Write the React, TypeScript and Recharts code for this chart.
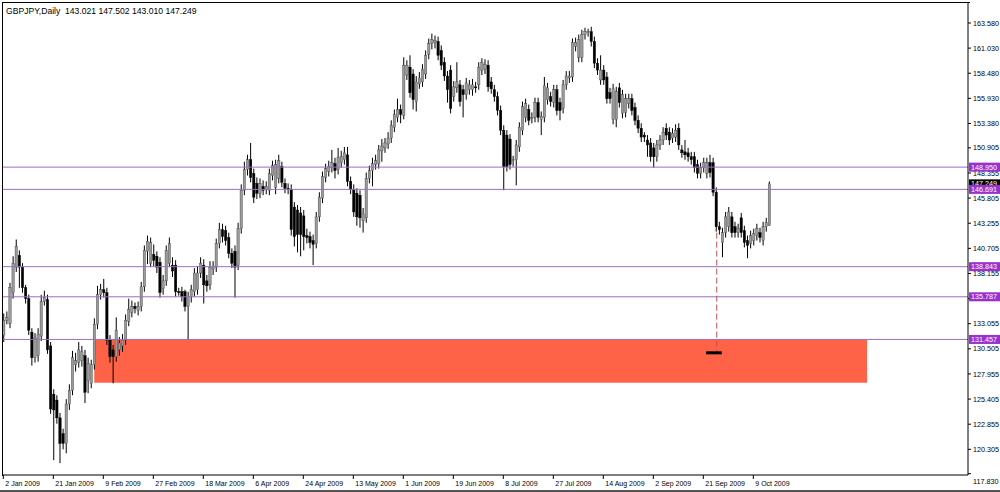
import React from 'react';
import { ComposedChart, Bar, XAxis, YAxis, ReferenceLine, ReferenceArea } from 'recharts';

// ---- data (GBPJPY daily, one value per bar) ----
const opens = [
  131.9,133.4,133.1,136.2,138.8,140.0,138.8,136.7,135.6,132.2,
  129.6,129.8,131.8,135.3,135.5,130.8,125.9,125.3,123.5,121.9,
  120.9,124.9,126.3,128.9,129.1,129.3,129.8,127.3,127.0,128.9,
  133.0,136.0,136.5,136.2,131.4,130.4,129.7,130.4,130.8,131.4,
  133.3,134.2,134.8,134.4,134.8,136.8,140.4,139.2,140.1,139.9,
  139.3,136.6,137.4,139.2,139.0,139.0,136.3,136.3,136.3,134.8,
  135.8,136.3,136.5,138.2,139.0,137.4,137.0,138.6,138.8,141.2,
  142.6,142.5,141.8,140.2,140.4,139.0,142.7,146.6,148.7,149.7,
  148.3,147.3,146.3,147.0,146.7,146.6,148.1,146.9,147.8,149.0,
  147.3,146.8,146.7,144.9,144.6,144.3,144.0,142.0,141.9,141.5,
  141.2,143.9,145.8,147.9,148.5,148.9,149.3,148.7,149.4,149.7,
  150.2,147.5,146.7,146.3,146.1,143.5,143.8,147.8,148.6,149.2,
  149.3,150.6,150.9,151.3,151.9,153.0,154.0,154.8,154.2,158.3,
  159.1,158.4,155.6,157.4,157.6,158.4,160.4,161.5,161.6,161.7,
  160.8,159.6,158.2,158.8,156.1,157.0,157.3,156.8,156.3,156.8,
  156.8,157.1,157.3,158.8,158.9,159.3,157.6,156.8,156.1,154.7,
  152.7,152.2,151.8,149.6,149.7,151.0,152.7,154.0,154.8,153.9,
  154.0,155.5,153.8,154.0,155.8,156.1,155.5,156.8,155.5,154.9,
  157.3,158.0,158.1,161.2,160.1,160.1,162.4,162.6,162.7,161.7,
  159.5,157.8,158.8,158.1,156.5,153.8,153.8,157.0,154.4,154.5,
  155.4,155.9,155.0,153.7,152.9,152.2,151.7,151.4,150.9,150.0,
  151.2,151.7,152.9,152.5,151.9,152.0,152.9,150.7,150.5,150.4,
  150.0,150.0,149.2,148.3,148.9,148.3,149.4,149.4,146.4,142.9,
  141.3,142.3,142.9,143.9,142.9,142.3,143.8,142.5,141.5,141.2,
  141.5,142.0,142.3,141.5,142.9,143.021,
];
const highs = [
  134.1,134.3,137.2,139.9,141.6,140.5,139.2,137.0,136.0,132.6,
  132.1,132.6,136.0,136.4,136.0,131.2,126.4,125.8,124.0,122.4,
  125.4,126.9,130.3,130.1,131.2,130.8,130.4,129.6,129.4,133.6,
  136.9,137.1,137.6,136.7,131.9,130.9,133.7,131.7,132.0,134.0,
  135.6,135.4,135.2,135.3,137.3,141.0,142.0,141.8,141.1,140.4,
  139.8,138.0,141.0,141.8,139.8,139.5,136.7,136.8,136.5,136.3,
  137.0,138.7,138.9,139.8,139.6,138.0,139.4,139.4,141.7,143.3,
  143.2,143.0,142.3,140.7,141.0,143.3,147.2,149.5,150.2,151.4,
  148.8,147.9,147.8,147.6,147.5,148.8,149.6,149.7,150.2,149.5,
  147.8,147.3,147.2,145.4,145.1,144.9,144.6,142.7,142.4,142.1,
  144.4,146.4,148.5,149.3,149.6,150.7,149.9,150.9,150.6,151.0,
  151.0,148.0,147.2,146.8,146.6,144.8,148.4,149.1,149.9,150.2,
  151.2,151.8,151.9,152.5,153.7,154.8,155.9,155.3,160.1,159.8,
  160.3,158.9,158.2,158.6,159.4,160.8,162.0,162.5,162.3,162.2,
  161.3,160.1,158.7,159.3,157.7,159.6,157.8,157.3,158.0,157.8,
  157.9,157.6,159.6,160.0,159.9,159.8,158.1,157.3,156.6,155.2,
  153.2,152.7,152.3,150.1,151.7,153.5,155.6,155.9,155.3,154.5,
  156.0,156.0,154.6,158.1,157.5,156.6,157.3,157.3,156.0,157.8,
  158.7,158.7,162.0,162.1,162.4,162.9,163.1,163.0,163.2,162.2,
  160.0,160.3,159.3,158.6,157.0,157.4,157.1,157.5,156.8,156.4,
  156.4,156.4,155.5,154.2,153.4,152.5,152.2,151.9,151.4,151.7,
  152.2,153.0,153.4,153.0,152.9,153.3,153.4,151.2,151.7,150.9,
  150.5,150.5,149.7,149.4,149.9,149.9,150.2,149.9,146.9,143.4,
  142.8,144.4,144.9,144.4,143.4,143.2,144.3,143.0,142.0,142.5,
  142.7,143.2,142.8,143.4,143.8,147.502,
];
const lows = [
  131.2,133.0,132.6,135.6,138.3,136.7,136.2,135.1,131.9,128.8,
  129.1,129.2,131.3,134.9,130.0,123.9,119.2,122.9,118.9,120.3,
  119.9,124.3,125.8,128.2,128.6,128.7,125.0,126.0,126.5,128.4,
  132.5,135.5,135.7,130.9,129.1,127.0,129.2,129.8,130.2,130.9,
  132.8,133.7,134.1,133.9,134.3,136.3,139.1,138.8,138.9,138.2,
  135.7,136.0,136.9,138.8,137.8,135.8,135.9,135.3,134.3,131.4,
  135.2,135.8,136.0,137.7,135.1,136.3,136.5,138.0,138.3,140.7,
  141.3,141.0,139.7,138.7,135.7,138.5,142.2,146.1,148.1,147.4,
  145.3,145.7,145.8,146.1,146.2,146.1,147.6,146.2,147.3,146.9,
  146.3,146.2,142.0,140.9,140.3,139.9,140.5,141.2,140.7,139.0,
  140.7,143.4,145.3,147.4,148.0,148.4,147.8,148.2,148.9,149.2,
  147.0,146.2,143.9,143.0,142.8,142.3,143.3,147.3,147.0,148.7,
  148.8,149.5,150.4,150.8,151.4,152.5,153.5,153.4,153.8,157.8,
  156.0,154.8,154.6,156.9,157.1,157.9,159.9,160.9,161.0,159.8,
  158.8,157.7,155.5,154.4,155.6,156.5,155.1,154.0,155.8,156.3,
  156.2,156.5,156.8,158.3,158.4,156.6,156.4,155.6,154.2,152.2,
  146.6,148.5,148.7,149.0,147.1,150.5,152.2,153.5,153.2,153.4,
  153.5,153.5,152.2,153.5,155.3,155.1,155.0,154.2,153.7,154.4,
  156.8,157.5,157.6,160.7,159.6,159.6,161.9,162.2,161.2,159.0,
  158.3,157.3,157.3,155.4,155.4,153.3,153.0,155.0,153.9,154.0,
  154.9,154.2,153.2,152.4,151.5,151.5,150.0,149.5,148.9,149.5,
  150.7,151.2,151.7,151.2,151.4,151.5,150.7,149.9,149.7,149.5,
  149.2,148.4,147.8,147.8,148.4,147.8,147.9,146.0,142.4,142.1,
  139.8,141.8,142.4,141.8,141.8,141.8,141.8,140.8,139.7,140.7,
  141.0,141.5,141.3,141.0,142.4,143.010,
];
const closes = [
  133.4,133.7,136.7,139.2,140.9,138.8,136.7,135.6,132.4,129.6,
  131.6,132.0,135.3,135.7,130.4,124.4,124.3,123.5,120.9,120.9,
  124.9,126.3,129.6,129.3,130.4,130.2,126.1,129.0,128.9,133.0,
  136.0,136.5,136.2,131.4,129.7,129.7,132.4,131.1,131.4,133.4,
  134.5,134.8,134.6,134.8,136.8,140.5,141.4,141.3,139.5,138.8,
  136.2,137.4,140.5,141.2,138.4,136.3,136.2,135.8,134.8,135.8,
  136.5,138.2,138.2,139.2,137.0,136.9,138.8,138.9,141.2,142.6,
  141.9,141.5,140.2,139.2,138.8,142.7,146.6,148.7,149.7,147.9,
  145.9,146.3,147.3,146.6,147.0,148.3,149.1,149.2,149.6,147.4,
  146.8,146.7,142.6,141.9,142.1,142.1,141.9,141.8,141.3,141.1,
  143.9,145.9,148.0,148.8,149.0,149.4,148.6,149.9,150.0,150.4,
  147.5,146.7,144.4,143.9,143.8,144.2,147.8,148.6,149.3,149.6,
  150.7,151.1,151.4,151.9,153.2,154.3,154.8,154.3,159.3,159.3,
  156.5,155.8,157.6,158.0,158.9,160.3,161.5,161.9,161.8,160.3,
  159.3,158.2,156.8,154.9,157.1,157.6,155.6,156.3,157.5,157.3,
  157.3,157.0,159.1,159.6,159.4,157.1,156.9,156.1,154.7,152.7,
  149.0,149.0,149.2,149.7,151.2,153.0,155.1,155.4,153.7,154.0,
  155.5,154.0,154.1,157.2,157.0,155.6,156.8,154.7,154.7,157.3,
  158.2,158.2,161.6,161.6,161.9,162.4,162.7,162.7,161.7,159.5,
  158.8,158.8,157.8,155.9,155.9,156.9,156.6,155.5,156.3,155.9,
  155.9,154.7,153.7,152.9,152.0,152.0,151.2,150.0,150.0,151.2,
  151.7,152.5,152.2,151.7,152.4,152.7,151.2,150.4,150.2,150.0,
  149.7,148.9,148.3,148.9,149.4,149.4,148.4,146.4,142.9,142.6,
  142.3,143.9,144.4,142.3,142.3,142.7,142.3,141.3,141.0,142.0,
  142.2,142.7,141.8,142.9,143.3,147.249,
];

const dateTickIndex = [0, 16, 32, 48, 64, 80, 96, 112, 128, 144, 160, 176, 192, 208, 224, 240];
const dateLabels = [
  '2 Jan 2009', '21 Jan 2009', '9 Feb 2009', '27 Feb 2009', '18 Mar 2009', '6 Apr 2009',
  '24 Apr 2009', '13 May 2009', '1 Jun 2009', '19 Jun 2009', '8 Jul 2009', '27 Jul 2009',
  '14 Aug 2009', '2 Sep 2009', '21 Sep 2009', '9 Oct 2009',
];
const priceTicks = [
  163.58, 161.03, 158.48, 155.93, 153.38, 150.905, 148.355, 145.805, 143.255, 140.705,
  138.155, 135.605, 133.055, 130.505, 127.955, 125.405, 122.855, 120.305, 117.83,
];
const levelPrices = [148.95, 146.691, 138.843, 135.787, 131.457];
const lastPrice = 147.249;
const titleText = 'GBPJPY,Daily  143.021 147.502 143.010 147.249';

// drawn objects (in data units)
const zoneStartBar = 29.1;
const zoneEndBar = 276.4;
const zoneHigh = 131.457;
const zoneLow = 127.07;
const targetBar = 228.3;
const targetFrom = 142.3;
const targetTo = 130.1;
const markerFromBar = 224.9;
const markerToBar = 229.9;
const markerPrice = 130.1;

const yDomain: [number, number] = [117.697, 165.61];
const xDomain: [number, number] = [-0.096, 308.7];

const FONT = '"Liberation Sans", Arial, sans-serif';

const rows = opens.map((o, i) => ({
  i,
  open: o,
  high: highs[i],
  low: lows[i],
  close: closes[i],
  range: [lows[i], highs[i]],
}));

const Candle = (props: any) => {
  const { x, y, width, height, payload } = props;
  if (!payload || height == null || isNaN(y)) return null;
  const { open, close, high, low } = payload;
  const cx = x + width / 2;
  const span = high - low;
  const k = span > 0 ? height / span : 0;
  const yOf = (v: number) => y + (high - v) * k;
  const top = yOf(Math.max(open, close));
  const bot = yOf(Math.min(open, close));
  const bull = close >= open;
  return (
    <g>
      <line x1={cx} x2={cx} y1={y} y2={y + height} stroke="#000" strokeWidth={1} />
      <rect
        x={cx - 1.2}
        y={top}
        width={2.4}
        height={Math.max(bot - top, 1)}
        fill={bull ? '#9a9a9a' : '#000'}
        stroke={bull ? '#444' : '#000'}
        strokeWidth={0.4}
      />
    </g>
  );
};

// y-axis tick label drawn as a reference-line label so that price boxes can sit on top
const AxisLabel = (props: any) => {
  const { viewBox, text, shift } = props;
  if (!viewBox) return null;
  const x0 = viewBox.x + viewBox.width;
  const y = viewBox.y;
  return (
    <g>
      <line x1={x0} x2={x0 + 3} y1={y} y2={y} stroke="#000" strokeWidth={1} />
      <text x={x0 + 5} y={y + shift} dy={2.6} fontSize={7.2} fontFamily={FONT} fill="#000" textAnchor="start">
        {text}
      </text>
    </g>
  );
};

const XTick = (props: any) => {
  const { x, payload } = props;
  const idx = dateTickIndex.indexOf(payload.value);
  return (
    <text x={x + 2} y={486} fontSize={7} fontFamily={FONT} fill="#000" textAnchor="start">
      {dateLabels[idx]}
    </text>
  );
};

const PriceBox = (props: any) => {
  const { viewBox, text, bg } = props;
  if (!viewBox) return null;
  const x = viewBox.x + viewBox.width + 1;
  const y = viewBox.y;
  return (
    <g>
      <rect x={x} y={y - 4.5} width={31} height={9} fill={bg} />
      <text x={x + 2} y={y} dy={2.6} fontSize={7.2} fontFamily={FONT} fill="#fff" textAnchor="start">
        {text}
      </text>
    </g>
  );
};

export default function App() {
  const lastTick = priceTicks[priceTicks.length - 1];
  return (
    <div style={{ position: 'absolute', left: 0, top: 0, width: 1000, height: 492, background: '#fff', overflow: 'hidden' }}>
      <ComposedChart width={1000} height={492} data={rows} margin={{ top: 3, right: 0, bottom: 0, left: 3 }}>
        <XAxis
          dataKey="i"
          type="number"
          domain={xDomain}
          allowDataOverflow
          ticks={dateTickIndex}
          interval={0}
          height={17}
          tickSize={4}
          tickLine={{ stroke: '#000' }}
          axisLine={{ stroke: '#000' }}
          tick={<XTick />}
        />
        <YAxis
          orientation="right"
          type="number"
          domain={yDomain}
          allowDataOverflow
          ticks={priceTicks}
          width={32}
          tick={false}
          tickLine={false}
          axisLine={{ stroke: '#000' }}
        />
        <ReferenceArea
          x1={zoneStartBar}
          x2={zoneEndBar}
          y1={zoneLow}
          y2={zoneHigh}
          fill="#ff6347"
          fillOpacity={1}
          stroke="none"
        />
        {levelPrices.map((p) => (
          <ReferenceLine key={'l' + p} y={p} stroke="#9a6fc0" strokeWidth={1} />
        ))}
        <ReferenceLine
          segment={[{ x: targetBar, y: targetFrom }, { x: targetBar, y: targetTo }]}
          stroke="#c0504d"
          strokeWidth={1}
          strokeDasharray="6 3"
        />
        <ReferenceLine
          segment={[{ x: markerFromBar, y: markerPrice }, { x: markerToBar, y: markerPrice }]}
          stroke="#000"
          strokeWidth={3}
        />
        <Bar dataKey="range" barSize={2} shape={<Candle />} isAnimationActive={false} />
        {priceTicks.map((p) => (
          <ReferenceLine
            key={'t' + p}
            y={p}
            stroke="none"
            label={<AxisLabel text={p.toFixed(3)} shift={p === lastTick ? 8 : 0} />}
          />
        ))}
        <ReferenceLine y={lastPrice} stroke="none" label={<PriceBox text={lastPrice.toFixed(3)} bg="#000" />} />
        {levelPrices.map((p) => (
          <ReferenceLine key={'b' + p} y={p} stroke="none" label={<PriceBox text={p.toFixed(3)} bg="#9932cc" />} />
        ))}
      </ComposedChart>
      <div style={{ position: 'absolute', left: 2, top: 2, width: 967, height: 473, borderLeft: '1px solid #000', borderTop: '1px solid #000', pointerEvents: 'none' }} />
      <div style={{ position: 'absolute', left: 0, top: 490, width: 1000, height: 2, background: '#555' }} />
      <div style={{ position: 'absolute', left: 6, top: 6, fontFamily: FONT, fontSize: 8.6, color: '#000', whiteSpace: 'pre' }}>
        {titleText}
      </div>
    </div>
  );
}
